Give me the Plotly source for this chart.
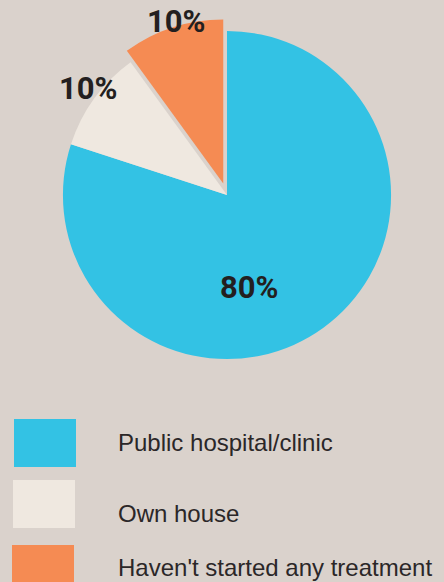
import plotly.graph_objects as go

# Where respondents are being treated
categories = ["Public hospital/clinic", "Own house", "Haven't started any treatment"]
shares = [80, 10, 10]
colors = ["#33c2e4", "#efe8e0", "#f58b53"]
pulls = [0, 0, 0.074]

W, H = 444, 582
BG = "#dad2cc"


def fx(px):
    return px / W


def fy(py):
    return 1 - py / H


# pie box: centre (227, 195), side 352 px
cx, cy, half = 227, 195, 176.2

fig = go.Figure(
    go.Pie(
        labels=categories,
        values=shares,
        marker=dict(colors=colors, line=dict(width=0)),
        pull=pulls,
        sort=False,
        direction="clockwise",
        rotation=0,
        textinfo="none",
        hoverinfo="label+percent",
        showlegend=False,
        domain=dict(x=[fx(cx - half), fx(cx + half)],
                    y=[fy(cy + half), fy(cy - half)]),
    )
)

# percentage labels
label_pos = [(249, 287), (88, 88), (176, 22)]
for v, (lx, ly) in zip(shares, label_pos):
    fig.add_annotation(
        x=fx(lx), y=fy(ly), xref="paper", yref="paper",
        text=f"<b>{v}%</b>", showarrow=False,
        xanchor="center", yanchor="middle",
        font=dict(family="Roboto", size=31, color="#231f20"),
    )

# legend: large swatches with labels to their right
swatches = [(14, 419, 76, 467), (13, 480, 75, 528), (12, 545, 74, 593)]
text_y = [442, 513, 567]
for name, col, (x0, y0, x1, y1), ty in zip(categories, colors, swatches, text_y):
    fig.add_shape(
        type="rect", xref="paper", yref="paper",
        x0=fx(x0), x1=fx(x1), y0=fy(y1), y1=fy(y0),
        fillcolor=col, line=dict(width=0), layer="above",
    )
    fig.add_annotation(
        x=fx(116), y=fy(ty), xref="paper", yref="paper",
        text=name, showarrow=False, xanchor="left", yanchor="middle",
        font=dict(family="Liberation Sans", size=24, color="#2b2728"),
    )

fig.update_layout(
    width=W, height=H,
    margin=dict(l=0, r=0, t=0, b=0),
    paper_bgcolor=BG, plot_bgcolor=BG,
)

fig.write_html("out.html")
